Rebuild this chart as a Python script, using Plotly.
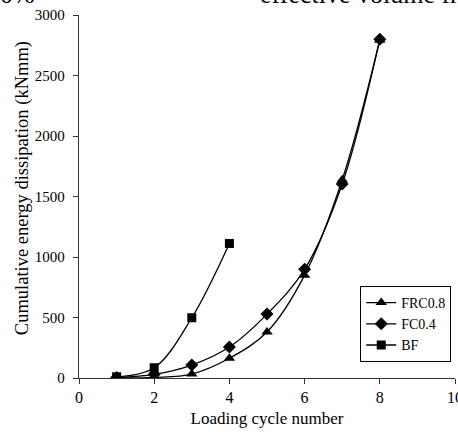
import plotly.graph_objects as go

cycles_bf = [1, 2, 3, 4]
bf = [10, 85, 498, 1112]
cycles = [1, 2, 3, 4, 5, 6, 7, 8]
fc04 = [5, 30, 107, 256, 528, 898, 1603, 2800]
frc08 = [0, 5, 33, 163, 380, 850, 1638, 2792]

FAM = "Liberation Serif"
fig = go.Figure()
fig.add_trace(go.Scatter(x=cycles, y=frc08, name="FRC0.8", mode="lines+markers",
                         line=dict(color="black", width=1.3, shape="spline"),
                         marker=dict(symbol="triangle-up", size=10, color="black")))
fig.add_trace(go.Scatter(x=cycles, y=fc04, name="FC0.4", mode="lines+markers",
                         line=dict(color="black", width=1.3, shape="spline"),
                         marker=dict(symbol="diamond", size=10, color="black")))
fig.add_trace(go.Scatter(x=cycles_bf, y=bf, name="BF", mode="lines+markers",
                         line=dict(color="black", width=1.3, shape="spline"),
                         marker=dict(symbol="square", size=9, color="black")))

fig.update_layout(
    width=458, height=434,
    margin=dict(l=79, r=3, t=15, b=56),
    paper_bgcolor="white", plot_bgcolor="white",
    font=dict(family=FAM, size=16, color="black"),
    xaxis=dict(range=[0, 10], tickvals=[0, 2, 4, 6, 8, 10], showgrid=False, zeroline=False,
               showline=True, linecolor="#333", linewidth=1.3, ticks="outside", ticklen=5,
               tickcolor="#333", tickfont=dict(family=FAM, size=16, color="black"),
               automargin=False, ticklabeloverflow="allow",
               title=dict(text="Loading cycle number", font=dict(family=FAM, size=17, color="black"),
                          standoff=6)),
    yaxis=dict(range=[0, 3000], tickvals=[0, 500, 1000, 1500, 2000, 2500, 3000], showgrid=False,
               zeroline=False, showline=True, linecolor="#333", linewidth=1.3, ticks="outside",
               ticklen=5, tickcolor="#333", tickfont=dict(family=FAM, size=15, color="black"),
               automargin=False, ticklabelstandoff=5),
    legend=dict(x=0.99, y=0.2535, xanchor="right", yanchor="top", bordercolor="black",
                borderwidth=1, bgcolor="white", font=dict(family=FAM, size=14, color="black"),
                itemwidth=30, tracegroupgap=0),
    showlegend=True,
)
fig.add_annotation(text="Cumulative energy dissipation (kNmm)", xref="paper", yref="paper",
                   x=-0.1516, y=0.523, xanchor="center", yanchor="middle", textangle=-90,
                   showarrow=False, font=dict(family=FAM, size=18.5, color="black"))
fig.add_annotation(text="20%", xref="paper", yref="paper", x=-0.25, y=1.012,
                   xanchor="left", yanchor="bottom", showarrow=False,
                   font=dict(family=FAM, size=26, color="black"))
fig.add_annotation(text="effective volume fraction", xref="paper", yref="paper", x=0.476, y=1.012,
                   xanchor="left", yanchor="bottom", showarrow=False,
                   font=dict(family=FAM, size=26, color="black"))
fig.write_html("out.html")
